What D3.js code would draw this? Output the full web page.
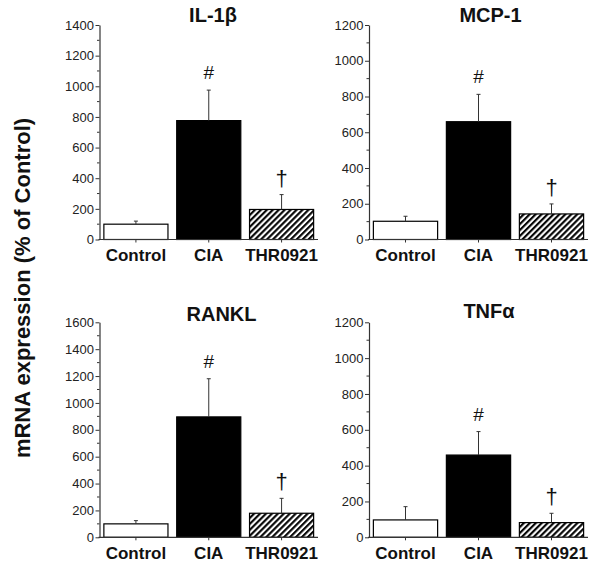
<!DOCTYPE html>
<html>
<head>
<meta charset="utf-8">
<script src="https://cdn.jsdelivr.net/npm/d3@7"></script>
<style>
  html, body { margin: 0; padding: 0; background: #fff; }
  svg { display: block; font-family: "Liberation Sans", Arial, Helvetica, sans-serif; }
</style>
</head>
<body>
<svg id="chart" width="600" height="568"></svg>
<script>
// ---- data ----
const categories = ["Control", "CIA", "THR0921"];
const panelTitles = ["IL-1β", "MCP-1", "RANKL", "TNFα"];
const il1bMeans = [100, 776, 196];
const il1bSem = [20, 199, 97];
const mcp1Means = [102, 659, 143];
const mcp1Sem = [28, 153, 56];
const ranklMeans = [100, 896, 179];
const ranklSem = [24, 284, 111];
const tnfaMeans = [97, 459, 82];
const tnfaSem = [74, 131, 52];
const yMaxima = [1400, 1200, 1600, 1200];
const majorStep = 200;
const minorStep = 100;
const significance = ["", "#", "†"];
const yAxisTitle = "mRNA expression (% of Control)";

const seriesMeans = [il1bMeans, mcp1Means, ranklMeans, tnfaMeans];
const seriesSem = [il1bSem, mcp1Sem, ranklSem, tnfaSem];

// ---- layout ----
const layout = [
  { left: 99.5, right: 318, top: 25, bottom: 239.5, titleX: 213, titleY: 21.5 },
  { left: 369, right: 588, top: 25, bottom: 239.5, titleX: 490.5, titleY: 21.5 },
  { left: 99.5, right: 318, top: 322.3, bottom: 537.3, titleX: 221.5, titleY: 321 },
  { left: 369, right: 588, top: 322.3, bottom: 537.3, titleX: 489, titleY: 318 }
];

const svg = d3.select("#chart");

// hatch pattern
const defs = svg.append("defs");
const pat = defs.append("pattern")
  .attr("id", "hatch")
  .attr("patternUnits", "userSpaceOnUse")
  .attr("width", 4.2).attr("height", 4.2)
  .attr("patternTransform", "rotate(45)");
pat.append("rect").attr("width", 4.2).attr("height", 4.2).attr("fill", "#fff");
pat.append("line").attr("x1", 1.1).attr("y1", 0).attr("x2", 1.1).attr("y2", 4.2)
  .attr("stroke", "#000").attr("stroke-width", 2.1);

const fills = ["#fff", "#000", "url(#hatch)"];

panelTitles.forEach((title, i) => {
  const L = layout[i];
  const means = seriesMeans[i];
  const sem = seriesSem[i];
  const g = svg.append("g");

  const y = d3.scaleLinear().domain([0, yMaxima[i]]).range([L.bottom, L.top]);
  const x = d3.scaleBand().domain(categories).range([L.left, L.right])
    .paddingInner(0.12).paddingOuter(0.06);

  // minor ticks
  const minor = d3.range(0, yMaxima[i] + 1, minorStep).filter(v => v % majorStep !== 0);
  g.selectAll("line.minor").data(minor).join("line")
    .attr("x1", L.left - 2.5).attr("x2", L.left)
    .attr("y1", d => y(d)).attr("y2", d => y(d))
    .attr("stroke", "#333").attr("stroke-width", 1);

  // y axis
  const yAxis = d3.axisLeft(y)
    .tickValues(d3.range(0, yMaxima[i] + 1, majorStep))
    .tickFormat(d3.format("d"))
    .tickSize(4).tickSizeOuter(0).tickPadding(1.5);
  const ya = g.append("g").attr("transform", `translate(${L.left},0)`).call(yAxis);
  ya.select(".domain").attr("stroke", "#333").attr("stroke-width", 1.2);
  ya.selectAll(".tick line").attr("stroke", "#333").attr("stroke-width", 1);
  ya.selectAll(".tick text").attr("font-size", 13).attr("fill", "#222")
    .attr("font-family", "'Liberation Sans', Arial, sans-serif");

  // bars
  g.selectAll("rect.bar").data(means).join("rect")
    .attr("x", (d, j) => x(categories[j]))
    .attr("width", x.bandwidth())
    .attr("y", d => y(d))
    .attr("height", d => y(0) - y(d))
    .attr("fill", (d, j) => fills[j])
    .attr("stroke", "#000").attr("stroke-width", 1.2);

  // error bars (upper only)
  means.forEach((m, j) => {
    const cx = x(categories[j]) + x.bandwidth() / 2;
    g.append("line").attr("x1", cx).attr("x2", cx)
      .attr("y1", y(m)).attr("y2", y(m + sem[j]))
      .attr("stroke", "#333").attr("stroke-width", 1);
    g.append("line").attr("x1", cx - 2).attr("x2", cx + 2)
      .attr("y1", y(m + sem[j])).attr("y2", y(m + sem[j]))
      .attr("stroke", "#333").attr("stroke-width", 1);
    if (significance[j]) {
      g.append("text")
        .attr("x", cx)
        .attr("y", y(m + sem[j]) - (significance[j] === "#" ? 11 : 9))
        .attr("text-anchor", "middle")
        .attr("font-size", significance[j] === "#" ? 19 : 22)
        .attr("fill", "#111")
        .text(significance[j]);
    }
  });

  // x axis line
  g.append("line").attr("x1", L.left - 1).attr("x2", L.right)
    .attr("y1", L.bottom).attr("y2", L.bottom)
    .attr("stroke", "#333").attr("stroke-width", 1.2);
  // x ticks
  g.selectAll("line.xt").data(categories).join("line")
    .attr("x1", d => x(d) + x.bandwidth() / 2).attr("x2", d => x(d) + x.bandwidth() / 2)
    .attr("y1", L.bottom).attr("y2", L.bottom + 3)
    .attr("stroke", "#333").attr("stroke-width", 1);
  // x labels
  g.selectAll("text.xl").data(categories).join("text")
    .attr("x", d => x(d) + x.bandwidth() / 2)
    .attr("y", L.bottom + 21.5)
    .attr("text-anchor", "middle")
    .attr("font-size", 17).attr("font-weight", "bold").attr("fill", "#111")
    .text(d => d);

  // title
  g.append("text")
    .attr("x", L.titleX).attr("y", L.titleY)
    .attr("text-anchor", "middle")
    .attr("font-size", 20).attr("font-weight", "bold").attr("fill", "#111")
    .text(title);
});

// shared y-axis title
svg.append("text")
  .attr("transform", "translate(30,288) rotate(-90)")
  .attr("text-anchor", "middle")
  .attr("font-size", 22).attr("font-weight", "bold").attr("fill", "#111")
  .text(yAxisTitle);
</script>
</body>
</html>
